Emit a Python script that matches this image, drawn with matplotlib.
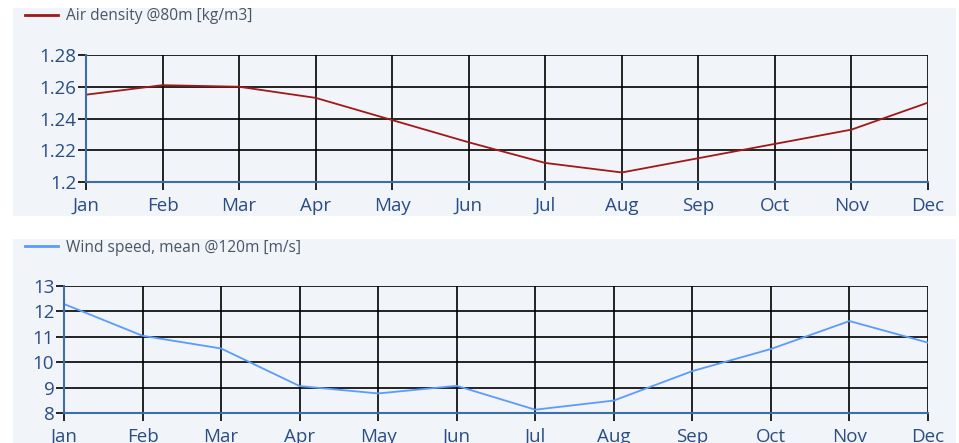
import matplotlib
matplotlib.use("Agg")
import matplotlib.pyplot as plt
from matplotlib.patches import Rectangle
from matplotlib.lines import Line2D

# Datos
meses = ['Jan', 'Feb', 'Mar', 'Apr', 'May', 'Jun', 'Jul', 'Aug', 'Sep', 'Oct', 'Nov', 'Dec']
densidad = [1.255, 1.261, 1.260, 1.253, 1.239, 1.225, 1.212, 1.206, 1.215, 1.224, 1.233, 1.250]
viento = [12.29, 11.04, 10.54, 9.06, 8.77, 9.07, 8.13, 8.49, 9.65, 10.52, 11.62, 10.77]

W, H = 959, 443
plt.rcParams['font.family'] = ['Open Sans', 'DejaVu Sans']
fig = plt.figure(figsize=(W / 100, H / 100), dpi=100)
fig.patch.set_facecolor('white')

fondo = '#f1f4f8'
color_txt = '#2a4d86'
color_eje = '#3d6ea8'


def px(x0, y0, x1, y1):
    # convertir píxeles (origen arriba-izquierda) a coordenadas de figura
    return [x0 / W, 1 - y1 / H, (x1 - x0) / W, (y1 - y0) / H]


def panel(caja, ejes, datos, color, etiqueta, yticks, yfmt):
    x0, y0, x1, y1 = caja
    fig.patches.append(Rectangle((x0 / W, 1 - y1 / H), (x1 - x0) / W, (y1 - y0) / H,
                                 transform=fig.transFigure, facecolor=fondo,
                                 edgecolor='none', zorder=-5))
    # leyenda
    fig.lines.append(Line2D([(x0 + 12) / W, (x0 + 45) / W], [1 - (y0 + 7) / H] * 2,
                            transform=fig.transFigure, color=color, lw=2))
    fig.text((x0 + 53) / W, 1 - (y0 + 8.5) / H, etiqueta, fontsize=11.2,
             color='#4a5668', va='center', ha='left')

    ax = fig.add_axes(px(*ejes))
    ax.set_facecolor('none')
    x = list(range(len(meses)))
    ax.plot(x, datos, color=color, lw=1.3, zorder=3)
    ax.set_xlim(0, len(meses) - 1)
    ax.set_ylim(yticks[0], yticks[-1])
    ax.set_xticks(x)
    ax.set_xticklabels(meses)
    ax.set_yticks(yticks)
    ax.set_yticklabels([yfmt(v) for v in yticks])
    ax.grid(True, color='black', lw=1.2, zorder=1)
    for lado in ['top', 'right']:
        ax.spines[lado].set_visible(False)
    for lado in ['left', 'bottom']:
        ax.spines[lado].set_color(color_eje)
        ax.spines[lado].set_linewidth(1.5)
        ax.spines[lado].set_zorder(4)
    ax.tick_params(axis='both', colors='black', labelcolor=color_txt,
                   labelsize=13.5, length=6, width=1.2)
    ax.tick_params(axis='x', pad=5)
    ax.tick_params(axis='y', pad=1)
    return ax


panel((13, 8, 956, 216), (86, 55, 928, 182), densidad, '#a01818',
      'Air density @80m [kg/m3]', [1.2, 1.22, 1.24, 1.26, 1.28],
      lambda v: ('%.2f' % v).rstrip('0').rstrip('.'))
panel((13, 239, 956, 443), (64, 286, 928, 413), viento, '#5b9bff',
      'Wind speed, mean @120m [m/s]', [8, 9, 10, 11, 12, 13],
      lambda v: '%d' % v)

fig.savefig('out.png', dpi=100, facecolor='white')
